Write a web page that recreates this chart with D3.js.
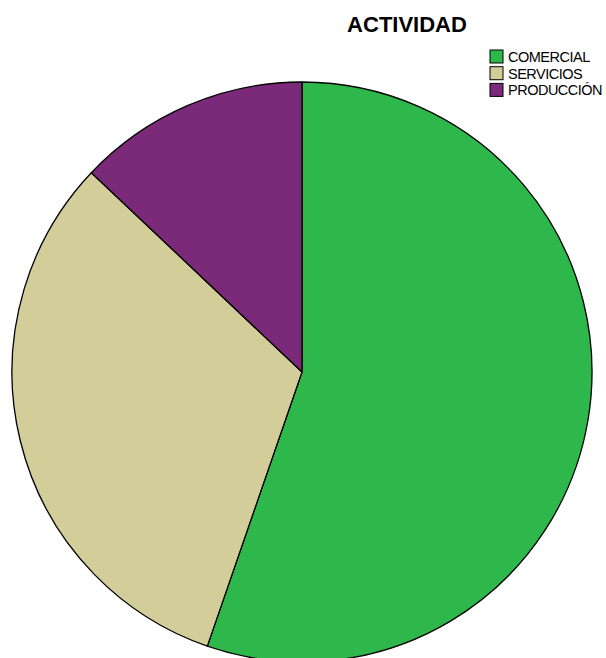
<!DOCTYPE html>
<html>
<head>
<meta charset="utf-8">
<script src="https://cdn.jsdelivr.net/npm/d3@7"></script>
<style>
  body { margin: 0; background: #fff; }
  svg { display: block; font-family: "Liberation Sans", Arial, sans-serif; }
</style>
</head>
<body>
<div id="chart"></div>
<script>
var categories = ["COMERCIAL", "SERVICIOS", "PRODUCCIÓN"];
var counts = [47, 27, 11];
var colors = ["#2eb84b", "#d3ce99", "#7b2a7a"];

var width = 606, height = 658;
var cx = 302, cy = 372, radius = 290;

var svg = d3.select("#chart").append("svg")
    .attr("width", width)
    .attr("height", height);

var pie = d3.pie().sort(null).value(function (d) { return d; });
var arc = d3.arc().innerRadius(0).outerRadius(radius);
var color = d3.scaleOrdinal().domain(categories).range(colors);

svg.append("g")
    .attr("transform", "translate(" + cx + "," + cy + ")")
    .selectAll("path")
    .data(pie(counts))
    .enter()
    .append("path")
    .attr("d", arc)
    .attr("fill", function (d, i) { return color(categories[i]); })
    .attr("stroke", "#000")
    .attr("stroke-width", 1.3)
    .attr("stroke-linejoin", "round");

svg.append("text")
    .attr("x", 407)
    .attr("y", 32)
    .attr("text-anchor", "middle")
    .attr("font-size", 22)
    .attr("font-weight", "bold")
    .text("ACTIVIDAD");

var legend = svg.append("g").attr("transform", "translate(490,50)");
var row = legend.selectAll("g")
    .data(categories)
    .enter()
    .append("g")
    .attr("transform", function (d, i) { return "translate(0," + (i * 16.7) + ")"; });

row.append("rect")
    .attr("width", 13)
    .attr("height", 13)
    .attr("fill", function (d) { return color(d); })
    .attr("stroke", "#000")
    .attr("stroke-width", 1);

row.append("text")
    .attr("x", 18)
    .attr("y", 12)
    .attr("font-size", 14.5)
    .attr("letter-spacing", -0.5)
    .text(function (d) { return d; });
</script>
</body>
</html>
